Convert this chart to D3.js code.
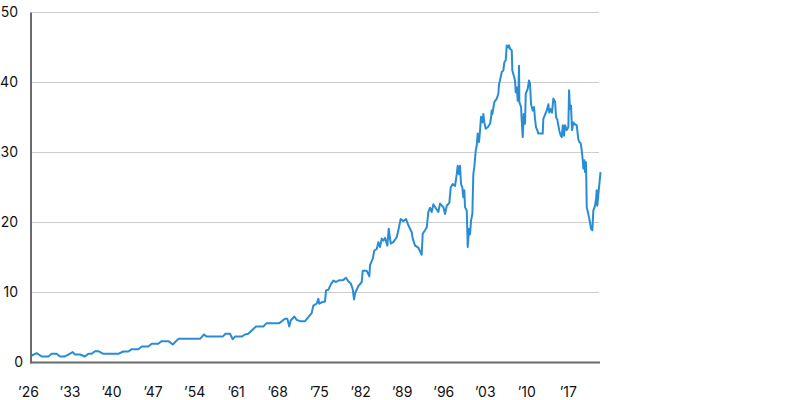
<!DOCTYPE html>
<html>
<head>
<meta charset="utf-8">
<script src="https://cdn.jsdelivr.net/npm/d3@7"></script>
<style>
  html, body { margin: 0; padding: 0; background: #fff; }
  svg { display: block; }
  text { font-family: Inter, "Noto Sans", sans-serif; font-size: 14px; fill: #111; }
</style>
</head>
<body>
<svg id="chart" width="800" height="400"></svg>
<script>
// Data (year, value)
const years = [
  1926.12,1926.96,1927.80,1928.92,1929.49,1930.33,1930.89,1931.73,1932.29,1933.03,
  1933.42,1934.26,1935.10,1935.66,1936.23,1936.79,1937.35,1938.19,1940.72,1941.56,
  1942.40,1942.98,1944.09,1944.66,1945.77,1946.35,1947.46,1948.03,1949.15,1949.89,
  1950.83,1954.49,1955.16,1955.62,1958.32,1958.79,1959.55,1960.00,1960.39,1961.52,
  1962.08,1962.63,1963.93,1965.16,1965.73,1967.86,1968.82,1969.21,1969.54,1969.78,
  1970.39,1970.79,1971.35,1972.19,1972.75,1973.32,1973.59,1974.16,1974.43,1974.60,
  1975.01,1975.56,1975.73,1976.12,1976.57,1976.96,1977.42,1977.80,1978.65,1979.10,
  1979.49,1979.90,1980.23,1980.45,1980.67,1981.18,1981.75,1981.92,1982.59,1983.03,
  1983.15,1983.60,1983.87,1984.28,1984.55,1984.83,1985.12,1985.39,1985.68,1986.07,
  1986.30,1986.64,1987.08,1987.65,1987.92,1988.32,1988.76,1989.22,1989.61,1990.18,
  1990.35,1990.74,1991.29,1991.86,1992.03,1992.42,1992.71,1992.98,1993.26,1993.55,
  1993.82,1994.27,1994.66,1994.95,1995.51,1995.79,1996.08,1996.52,1996.75,1997.09,
  1997.48,1997.77,1997.93,1998.15,1998.32,1998.49,1998.71,1998.88,1999.05,1999.16,
  1999.45,1999.62,1999.84,2000.01,2000.18,2000.40,2000.56,2000.73,2000.97,2001.14,
  2001.30,2001.52,2001.69,2001.86,2002.08,2002.25,2002.42,2002.65,2002.99,2003.38,
  2003.55,2003.66,2003.77,2004.10,2004.51,2004.78,2004.90,2005.06,2005.35,2005.62,
  2005.79,2006.03,2006.19,2006.46,2006.58,2006.75,2007.04,2007.14,2007.31,2007.59,
  2007.71,2007.88,2008.05,2008.15,2008.27,2008.32,2008.61,2008.72,2008.89,2009.06,
  2009.28,2009.40,2009.73,2009.95,2010.12,2010.29,2010.58,2010.80,2010.96,2011.13,
  2011.35,2011.52,2012.26,2012.36,2012.65,2012.94,2013.21,2013.37,2013.61,2013.83,
  2014.05,2014.34,2014.51,2014.72,2014.89,2015.06,2015.30,2015.47,2015.64,2015.85,
  2016.02,2016.31,2016.58,2016.70,2016.86,2017.03,2017.20,2017.42,2017.71,2017.99,
  2018.26,2018.43,2018.67,2018.84,2019.01,2019.11,2019.28,2019.39,2019.56,2019.68,
  2019.95,2020.24,2020.40,2020.63,2020.79,2021.08,2021.25,2021.36,2021.46,2021.63,
  2022.00
];
const values = [
  1.0,1.33,0.86,0.86,1.24,1.24,0.86,0.86,1.14,1.48,
  1.14,1.14,0.86,1.24,1.24,1.62,1.62,1.24,1.24,1.57,
  1.57,1.9,1.9,2.29,2.29,2.67,2.67,3.05,3.05,2.57,
  3.38,3.38,4.0,3.7,3.7,4.1,4.1,3.33,3.7,3.7,
  4.0,4.1,5.14,5.14,5.62,5.62,6.24,6.24,5.14,6.0,
  6.57,6.1,5.9,5.9,6.48,7.05,8.14,8.4,9.1,8.4,
  8.6,8.7,10.3,10.4,11.2,11.7,11.5,11.7,11.8,12.1,
  11.6,11.3,10.5,9.0,10.0,10.9,11.5,13.1,13.1,12.3,
  13.9,14.8,16.0,16.2,17.2,16.5,17.7,17.4,17.8,16.7,
  19.1,17.0,17.2,17.9,18.9,20.5,20.2,20.5,19.6,18.6,
  17.7,16.7,16.4,15.4,18.4,18.9,19.3,21.5,22.1,21.5,
  22.6,22.0,21.5,22.7,22.2,21.2,22.4,22.8,25.0,25.5,
  25.2,26.9,28.1,26.9,28.1,25.5,25.0,23.6,24.6,22.2,
  21.7,16.5,19.1,18.3,20.3,21.2,26.9,27.9,30.3,31.0,
  32.7,31.5,33.1,35.1,34.3,35.5,34.3,33.4,33.6,34.1,
  35.0,36.0,35.5,37.2,37.7,38.4,39.8,40.3,41.5,41.7,
  42.9,43.2,45.3,45.0,45.3,44.8,44.6,41.7,41.2,40.3,
  38.6,39.3,37.4,38.4,42.4,37.2,36.5,34.6,32.2,35.5,
  34.1,38.4,39.1,40.3,39.8,36.9,36.0,36.5,34.8,33.6,
  33.2,32.7,32.7,34.8,35.4,36.0,36.9,35.7,36.2,35.7,
  37.7,37.3,35.0,34.7,33.9,33.1,32.4,32.2,33.9,32.4,
  33.9,33.2,33.6,38.9,36.2,36.7,33.2,34.3,34.0,33.9,
  31.9,31.5,31.3,30.3,28.9,27.7,28.9,27.2,28.6,22.2,
  21.2,20.0,19.1,18.9,21.7,22.4,23.4,24.6,22.4,23.9,
  27.2
];
const xTickYears = [1926,1933,1940,1947,1954,1961,1968,1975,1982,1989,1996,2003,2010,2017];
const yTicks = [0,10,20,30,40,50];

const svg = d3.select("#chart");
const x = d3.scaleLinear().domain([1926, 2022]).range([31, 600.5]);
const y = d3.scaleLinear().domain([0, 50]).range([362.5, 12.5]);

// gridlines
svg.append("g")
  .selectAll("line")
  .data(yTicks.filter(d => d > 0))
  .join("line")
  .attr("x1", x(1926)).attr("x2", 599)
  .attr("y1", d => y(d)).attr("y2", d => y(d))
  .attr("stroke", "#cccccc").attr("stroke-width", 1);

// y axis labels
svg.append("g")
  .selectAll("text")
  .data(yTicks)
  .join("text")
  .attr("x", d => d === 0 ? 23 : 18)
  .attr("y", d => y(d))
  .attr("dy", "0.35em")
  .attr("text-anchor", "end")
  .text(d => d);

// x axis labels
svg.append("g")
  .selectAll("text")
  .data(xTickYears)
  .join("text")
  .attr("x", d => x(d) - 2.5)
  .attr("y", 397)
  .attr("text-anchor", "middle")
  .text(d => "\u2019" + String(d % 100).padStart(2, "0"));

// axes lines
svg.append("line")
  .attr("x1", x(1926)).attr("x2", x(1926))
  .attr("y1", y(50)).attr("y2", y(0) + 1)
  .attr("stroke", "#6b6b6b").attr("stroke-width", 2);
svg.append("line")
  .attr("x1", x(1926) - 1).attr("x2", 600)
  .attr("y1", y(0)).attr("y2", y(0))
  .attr("stroke", "#6b6b6b").attr("stroke-width", 2);

// series
const data = years.map((yr, i) => ({ yr, v: values[i] }));
svg.append("path")
  .datum(data)
  .attr("fill", "none")
  .attr("stroke", "#2a8dd4")
  .attr("stroke-width", 2)
  .attr("stroke-linejoin", "round")
  .attr("d", d3.line().x(d => x(d.yr)).y(d => y(d.v)));
</script>
</body>
</html>
